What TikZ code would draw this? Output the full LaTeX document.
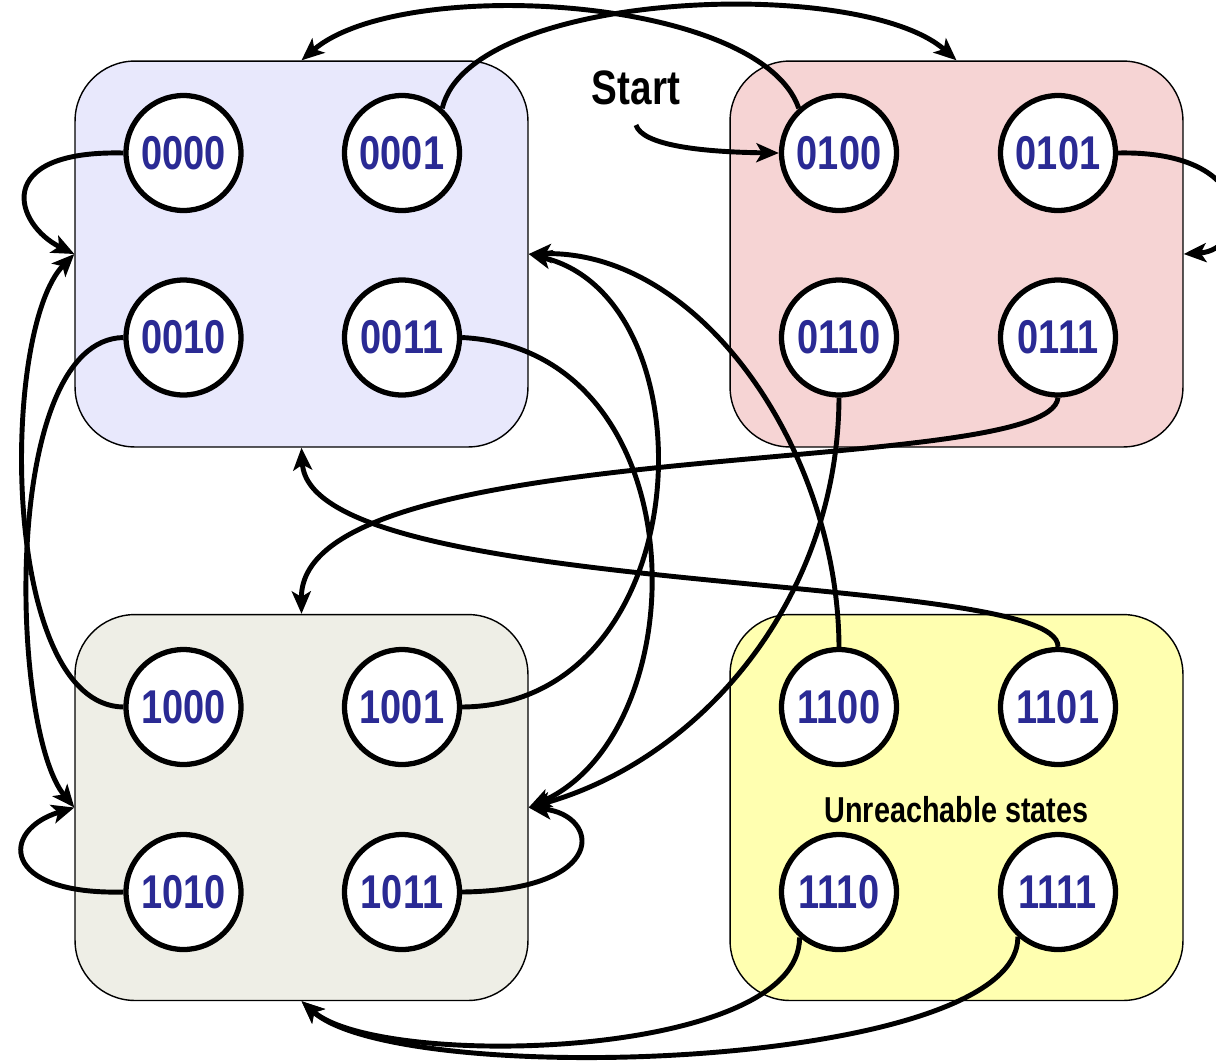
\documentclass[tikz,border=0pt]{standalone}
\usepackage{fontspec}
\usetikzlibrary{arrows.meta}
\newfontfamily\narrowsf[FakeStretch=0.8]{Liberation Sans}
\definecolor{grpblue}{RGB}{232,232,252}
\definecolor{grppink}{RGB}{246,212,212}
\definecolor{grpgrey}{RGB}{238,238,230}
\definecolor{grpyellow}{RGB}{255,255,176}
\definecolor{statetext}{RGB}{42,42,148}
\begin{document}
\begin{tikzpicture}
		[x=0.02cm,y=-0.02cm,
		cluster/.style={rectangle,rounded corners=1.2cm,draw=black,line width=0.8pt,
minimum width=9.06cm,minimum height=7.72cm,inner sep=0pt},
		place/.style={circle,draw=black,fill=white,line width=3pt,
inner sep=0pt,minimum size=2.3cm,text=statetext,
font=\narrowsf\bfseries\fontsize{27}{30}\selectfont},
		textstyle/.style={font=\narrowsf\bfseries\fontsize{27.5}{32}\selectfont},
		smalltext/.style={font=\narrowsf\bfseries\fontsize{20.5}{24}\selectfont},
		edgestyle/.style={->,line width=2.8pt,>={Stealth[length=4.5mm,width=3.8mm,inset=1.1mm]}}]
		\useasboundingbox (0,0) rectangle (1216,1063);
		\node at (301.5,254) (g00) [cluster,fill=grpblue] {};
		\node at (956.5,254) (g01) [cluster,fill=grppink] {};
		\node at (301.5,807.5) (g10) [cluster,fill=grpgrey] {};
		\node at (956.5,807.5) (g11) [cluster,fill=grpyellow] {};
		\node at (183.5,153) (s0000) [place] {0000};
		\node at (402,153) (s0001) [place] {0001};
		\node at (183.5,337.5) (s0010) [place] {0010};
		\node at (402,337.5) (s0011) [place] {0011};
		\node at (839,153) (s0100) [place] {0100};
		\node at (1058,153) (s0101) [place] {0101};
		\node at (839,337.5) (s0110) [place] {0110};
		\node at (1058,337.5) (s0111) [place] {0111};
		\node at (183.5,707) (s1000) [place] {1000};
		\node at (402,707) (s1001) [place] {1001};
		\node at (183.5,892) (s1010) [place] {1010};
		\node at (402,892) (s1011) [place] {1011};
		\node at (839,707) (s1100) [place] {1100};
		\node at (1058,707) (s1101) [place] {1101};
		\node at (839,892) (s1110) [place] {1110};
		\node at (1058,892) (s1111) [place] {1111};
		\node at (636,88) (start) [textstyle] {Start};
		\node at (956.5,810) (unreach) [smalltext] {Unreachable states};
		\coordinate (startpt) at (636,125);
		% self loops
		\draw[edgestyle] (s0000.west) .. controls (-10,150) and (15,225) .. (g00.west);
		\draw[edgestyle] (s0101.east) .. controls (1260,150) and (1250,250) .. (g01.east);
		\draw[edgestyle] (s1010.west) .. controls (0,895) and (0,830) .. (g10.west);
		\draw[edgestyle] (s1011.east) .. controls (610,890) and (600,815) .. (g10.east);
		% transitions
		\draw[edgestyle] (startpt) .. controls (642,145) and (700,152) .. (s0100.west);
		\draw[edgestyle] (s0001.48) .. controls (470,-10) and (860,-25) .. (g01.north);
		\draw[edgestyle] (s0100.132) .. controls (760,-5) and (400,-25) .. (g00.north);
		\draw[edgestyle] (s0010.west) .. controls (0,340) and (10,730) .. (g10.west);
		\draw[edgestyle] (s1000.west) .. controls (0,705) and (0,330) .. (g00.west);
		\draw[edgestyle] (s0011.east) .. controls (700,350) and (700,730) .. (g10.east);
		\draw[edgestyle] (s1001.east) .. controls (700,705) and (715,300) .. (g00.east);
		\draw[edgestyle] (s1100.north) .. controls (838,450) and (700,250) .. (g00.east);
		\draw[edgestyle] (s0110.south) .. controls (838,600) and (700,760) .. (g10.east);
		\draw[edgestyle] (s0111.south) .. controls (1050,480) and (300,430) .. (g10.north);
		\draw[edgestyle] (s1101.north) .. controls (1060,570) and (310,600) .. (g00.south);
		\draw[edgestyle] (s1110.229) .. controls (800,1060) and (380,1070) .. (g10.south);
		\draw[edgestyle] (s1111.228) .. controls (1020,1070) and (400,1090) .. (g10.south);
	\end{tikzpicture}
\end{document}
